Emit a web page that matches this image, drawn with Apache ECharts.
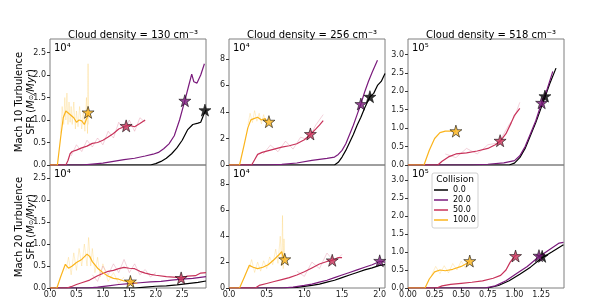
<!DOCTYPE html>
<html><head><meta charset="utf-8">
<script src="https://cdn.jsdelivr.net/npm/echarts@6/dist/echarts.min.js"></script>
<style>html,body{margin:0;padding:0;background:#fff}#c{width:598px;height:299px}</style>
</head><body><div id="c"></div>
<script>
// ---------- data ----------
const collisions = ["0.0", "20.0", "50.0", "100.0"];
const densities = ["130", "256", "518"];
const machs = ["10", "20"];
const scaleLabels = ["10\u2074", "10\u2074", "10\u2075"];

// Panel A: Mach 10, density 130 (units of 1e4)
const A_black = [[0,0],[1.9,0],[2.0,0.03],[2.1,0.08],[2.2,0.15],[2.3,0.25],[2.4,0.38],[2.5,0.55],[2.6,0.78],[2.7,0.9],[2.8,0.93],[2.85,0.95],[2.9,1.1],[2.95,1.22]];
const A_purple = [[0,0],[0.6,0],[0.8,0.02],[1.0,0.04],[1.2,0.08],[1.4,0.12],[1.6,0.15],[1.8,0.2],[1.95,0.24],[2.05,0.28],[2.15,0.36],[2.25,0.47],[2.35,0.65],[2.45,1.0],[2.55,1.43],[2.62,1.75],[2.68,2.02],[2.72,1.85],[2.78,1.82],[2.85,2.0],[2.92,2.25]];
const A_crimson = [[0,0],[0.3,0],[0.34,0.1],[0.38,0.25],[0.42,0.3],[0.5,0.33],[0.6,0.38],[0.7,0.42],[0.8,0.48],[0.9,0.5],[1.0,0.55],[1.1,0.62],[1.2,0.7],[1.3,0.8],[1.4,0.85],[1.44,0.87],[1.5,0.88],[1.6,0.85],[1.7,0.92],[1.8,1.0]];
const A_orange = [[0,0],[0.14,0],[0.2,0.6],[0.25,1.05],[0.3,1.2],[0.35,1.15],[0.4,1.1],[0.45,1.05],[0.5,0.95],[0.55,1.0],[0.6,0.98],[0.65,0.9],[0.7,1.05],[0.73,1.17]];
const A_orange_raw = [[0.2,0.7],[0.23,1.3],[0.26,0.9],[0.28,1.5],[0.3,1.0],[0.32,1.6],[0.34,0.9],[0.36,1.4],[0.38,0.95],[0.4,1.3],[0.42,0.9],[0.45,1.4],[0.48,0.8],[0.5,1.2],[0.53,0.85],[0.56,1.3],[0.6,0.8],[0.63,1.2],[0.66,0.75],[0.69,1.5],[0.71,0.7],[0.72,2.25],[0.73,0.9]];
const A_crimson_raw = [[0.4,0.2],[0.5,0.45],[0.6,0.3],[0.7,0.55],[0.8,0.4],[0.9,0.6],[1.0,0.45],[1.1,0.75],[1.2,0.6],[1.3,0.95],[1.4,0.75],[1.5,1.0],[1.6,0.75],[1.7,1.05],[1.8,0.95]];
const A_stars = [[2.93,1.22],[2.55,1.43],[1.44,0.87],[0.72,1.17]];

// Panel B: Mach 10, density 256 (1e4)
const B_black = [[0,0],[1.4,0],[1.45,0.2],[1.5,0.6],[1.55,1.1],[1.6,1.7],[1.65,2.3],[1.7,3.0],[1.75,3.6],[1.8,4.3],[1.87,5.15],[1.92,5.4],[1.97,6.0],[2.02,6.3],[2.07,6.9]];
const B_purple = [[0,0],[0.5,0],[0.7,0.05],[0.9,0.15],[1.1,0.35],[1.3,0.5],[1.4,0.6],[1.45,0.8],[1.5,1.1],[1.55,1.6],[1.6,2.3],[1.65,3.0],[1.7,3.8],[1.75,4.6],[1.8,5.5],[1.85,6.3],[1.9,7.0],[1.97,7.9]];
const B_crimson = [[0,0],[0.3,0],[0.34,0.4],[0.38,0.8],[0.44,0.95],[0.5,1.05],[0.6,1.2],[0.7,1.35],[0.8,1.45],[0.9,1.6],[1.0,1.9],[1.08,2.3],[1.15,2.7],[1.2,3.0],[1.25,3.35]];
const B_orange = [[0,0],[0.14,0],[0.2,1.5],[0.25,2.8],[0.29,3.4],[0.33,3.5],[0.38,3.6],[0.43,3.4],[0.48,3.5],[0.5,3.2]];
const B_orange_raw = [[0.25,3.0],[0.28,3.9],[0.31,3.2],[0.34,4.1],[0.37,3.3],[0.4,3.9],[0.43,3.1],[0.46,3.8],[0.5,2.9]];
const B_crimson_raw = [[0.45,0.8],[0.55,1.5],[0.65,1.0],[0.75,1.8],[0.85,1.2],[0.95,2.1],[1.05,1.9],[1.15,3.0],[1.25,3.8]];
const B_stars = [[1.87,5.15],[1.75,4.6],[1.08,2.34],[0.53,3.27]];

// Panel C: Mach 10, density 518 (1e5)
const C_black = [[0,0],[0.95,0],[1.0,0.05],[1.05,0.2],[1.1,0.45],[1.15,0.8],[1.2,1.15],[1.25,1.55],[1.29,1.87],[1.33,2.2],[1.39,2.63]];
const C_purple = [[0,0],[0.6,0],[0.75,0.02],[0.9,0.06],[1.0,0.12],[1.05,0.25],[1.1,0.5],[1.15,0.85],[1.2,1.2],[1.255,1.69],[1.3,2.0],[1.36,2.54]];
const C_crimson = [[0,0],[0.28,0],[0.32,0.1],[0.38,0.22],[0.45,0.3],[0.55,0.33],[0.65,0.38],[0.75,0.45],[0.82,0.55],[0.87,0.66],[0.92,0.85],[0.97,1.15],[1.0,1.35],[1.05,1.54]];
const C_orange = [[0,0],[0.15,0],[0.2,0.4],[0.25,0.72],[0.3,0.88],[0.35,0.92],[0.4,0.92],[0.45,0.92]];
const C_crimson_raw = [[0.35,0.3],[0.45,0.2],[0.55,0.45],[0.65,0.3],[0.75,0.55],[0.85,0.6],[0.95,1.1],[1.0,1.3],[1.05,1.7]];
const C_stars = [[1.286,1.87],[1.255,1.69],[0.865,0.66],[0.45,0.92]];

// Panel D: Mach 20, density 130 (1e4)
const D_black = [[0,0],[1.6,0],[1.8,0.02],[2.0,0.04],[2.2,0.05],[2.4,0.07],[2.6,0.1],[2.8,0.13],[2.95,0.16]];
const D_purple = [[0,0],[0.7,0],[0.9,0.02],[1.1,0.05],[1.3,0.08],[1.5,0.1],[1.7,0.12],[1.9,0.14],[2.1,0.15],[2.3,0.18],[2.5,0.2],[2.7,0.22],[2.95,0.26]];
const D_crimson = [[0,0],[0.32,0],[0.4,0.03],[0.5,0.08],[0.6,0.12],[0.75,0.18],[0.9,0.28],[1.0,0.33],[1.1,0.38],[1.2,0.4],[1.3,0.44],[1.4,0.47],[1.5,0.45],[1.6,0.44],[1.7,0.38],[1.8,0.34],[1.9,0.31],[2.0,0.29],[2.2,0.26],[2.4,0.24],[2.48,0.23],[2.6,0.27],[2.75,0.28],[2.85,0.34],[2.95,0.35]];
const D_orange = [[0,0],[0.13,0],[0.2,0.25],[0.29,0.54],[0.35,0.45],[0.42,0.5],[0.5,0.58],[0.6,0.65],[0.7,0.77],[0.75,0.72],[0.8,0.6],[0.9,0.45],[1.0,0.35],[1.1,0.27],[1.2,0.22],[1.3,0.2],[1.4,0.16],[1.5,0.15],[1.6,0.12],[1.65,0.11]];
const D_orange_raw = [[0.3,0.4],[0.35,0.7],[0.4,0.3],[0.45,0.8],[0.5,0.4],[0.55,0.9],[0.6,0.5],[0.65,1.0],[0.7,0.5],[0.73,1.15],[0.77,0.5],[0.8,0.9],[0.85,0.35],[0.9,0.7],[0.95,0.25],[1.0,0.55],[1.1,0.15],[1.2,0.35],[1.3,0.1],[1.4,0.25]];
const D_crimson_raw = [[0.8,0.3],[0.9,0.15],[1.0,0.5],[1.1,0.3],[1.2,0.55],[1.3,0.35],[1.4,0.65],[1.5,0.35],[1.6,0.55],[1.7,0.3],[1.8,0.42],[1.9,0.25],[2.0,0.35]];
const D_stars = [[2.48,0.23],[1.52,0.15]];

// Panel E: Mach 20, density 256 (1e4)
const E_black = [[0,0],[0.75,0],[0.9,0.05],[1.0,0.12],[1.1,0.2],[1.2,0.3],[1.3,0.45],[1.4,0.6],[1.5,0.8],[1.6,1.0],[1.7,1.2],[1.8,1.4],[1.9,1.55],[2.0,1.75],[2.07,1.8]];
const E_purple = [[0,0],[0.7,0],[0.85,0.07],[1.0,0.2],[1.1,0.3],[1.2,0.45],[1.3,0.6],[1.4,0.8],[1.5,1.0],[1.6,1.2],[1.7,1.4],[1.8,1.6],[1.9,1.8],[2.0,2.05],[2.07,2.0]];
const E_crimson = [[0,0],[0.35,0],[0.4,0.2],[0.5,0.35],[0.6,0.5],[0.7,0.65],[0.8,0.8],[0.9,1.0],[1.0,1.25],[1.1,1.55],[1.2,1.85],[1.3,2.05],[1.37,2.14],[1.45,2.35],[1.5,2.35]];
const E_orange = [[0,0],[0.14,0],[0.2,0.8],[0.27,1.75],[0.32,1.6],[0.38,1.5],[0.45,1.6],[0.52,1.8],[0.6,2.2],[0.66,2.55],[0.7,2.8],[0.72,2.3],[0.74,2.2]];
const E_orange_raw = [[0.27,1.5],[0.3,2.2],[0.34,1.2],[0.38,2.0],[0.42,1.3],[0.46,2.1],[0.5,1.5],[0.54,2.4],[0.58,1.8],[0.62,3.0],[0.65,1.9],[0.68,4.0],[0.7,1.7],[0.71,5.6],[0.72,1.5],[0.73,3.8],[0.74,2.0]];
const E_crimson_raw = [[0.9,1.3],[1.0,0.9],[1.1,2.0],[1.2,1.5],[1.3,2.7],[1.4,2.0],[1.5,2.6]];
const E_stars = [[2.0,2.1],[1.37,2.14],[0.74,2.22]];

// Panel F: Mach 20, density 518 (1e5)
const F_black = [[0,0],[0.75,0],[0.85,0.07],[0.95,0.2],[1.05,0.38],[1.15,0.58],[1.25,0.82],[1.35,1.0],[1.46,1.2]];
const F_purple = [[0,0],[0.72,0],[0.82,0.06],[0.92,0.2],[1.02,0.4],[1.12,0.6],[1.22,0.85],[1.32,1.05],[1.42,1.25],[1.46,1.27]];
const F_crimson = [[0,0],[0.27,0],[0.32,0.06],[0.4,0.1],[0.5,0.13],[0.6,0.16],[0.7,0.2],[0.8,0.27],[0.87,0.35],[0.92,0.5],[0.96,0.72],[1.0,0.88],[1.02,0.92]];
const F_orange = [[0,0],[0.16,0],[0.2,0.25],[0.25,0.45],[0.3,0.5],[0.35,0.48],[0.42,0.52],[0.5,0.6],[0.55,0.68],[0.58,0.75]];
const F_orange_raw = [[0.22,0.35],[0.26,0.6],[0.3,0.4],[0.34,0.62],[0.38,0.42],[0.42,0.68],[0.46,0.5],[0.5,0.75],[0.54,0.55],[0.58,0.85]];
const F_stars = [[1.26,0.88],[1.23,0.9],[1.01,0.89],[0.58,0.75]];

// ---------- styles ----------
const colors = ["#000000", "#7a1a7c", "#c8325a", "#fbb41c"];
const xMax = [2.95, 2.07, 1.465];
const xInt = [0.5, 0.5, 0.25];
const yMax = [2.8, 9.5, 3.42];
const yInt = [0.5, 2, 0.5];
const colLeft = [50, 229, 408];
const colW = 156;
const rowTop = [39, 165];
const rowH = [126, 124];

const panels = [
  {lines:[A_black,A_purple,A_crimson,A_orange], raw:[[3,A_orange_raw],[2,A_crimson_raw]], stars:A_stars, starCols:[0,1,2,3]},
  {lines:[B_black,B_purple,B_crimson,B_orange], raw:[[3,B_orange_raw],[2,B_crimson_raw]], stars:B_stars, starCols:[0,1,2,3]},
  {lines:[C_black,C_purple,C_crimson,C_orange], raw:[[2,C_crimson_raw]], stars:C_stars, starCols:[0,1,2,3]},
  {lines:[D_black,D_purple,D_crimson,D_orange], raw:[[3,D_orange_raw],[2,D_crimson_raw]], stars:D_stars, starCols:[2,3]},
  {lines:[E_black,E_purple,E_crimson,E_orange], raw:[[3,E_orange_raw],[2,E_crimson_raw]], stars:E_stars, starCols:[1,2,3]},
  {lines:[F_black,F_purple,F_crimson,F_orange], raw:[[3,F_orange_raw]], stars:F_stars, starCols:[0,1,2,3]}
];

const starPath = 'path://M50,0 L61,35 L98,35 L68,57 L79,91 L50,70 L21,91 L32,57 L2,35 L39,35 Z';
const font = 'DejaVu Sans';

const grid = [], xAxis = [], yAxis = [], series = [], title = [], graphic = [];
for (let r = 0; r < 2; r++) {
  for (let c = 0; c < 3; c++) {
    const p = r*3 + c;
    grid.push({left: colLeft[c], top: rowTop[r], width: colW, height: rowH[r], show: true, borderColor: '#7f7f7f', borderWidth: 1, backgroundColor: 'transparent'});
    xAxis.push({type: 'value', gridIndex: p, min: 0, max: xMax[c], interval: xInt[c],
      axisLine: {show: false}, splitLine: {show: false},
      axisTick: {show: r === 1, length: 3, lineStyle: {color: '#333'}},
      axisLabel: {show: r === 1, fontSize: 8, color: '#222', fontFamily: font, margin: 3, showMaxLabel: false,
        formatter: v => c === 2 ? v.toFixed(2) : v.toFixed(1)}});
    yAxis.push({type: 'value', gridIndex: p, min: 0, max: yMax[c], interval: yInt[c],
      axisLine: {show: false}, splitLine: {show: false},
      axisTick: {show: true, length: 3, lineStyle: {color: '#333'}},
      axisLabel: {fontSize: 8, color: '#222', fontFamily: font, margin: 4, showMaxLabel: false,
        formatter: v => c === 1 ? String(Math.round(v)) : v.toFixed(1)}});
    const P = panels[p];
    P.raw.forEach(([ci, d]) => {
      series.push({type: 'line', name: 'raw' + ci, xAxisIndex: p, yAxisIndex: p, data: d, symbol: 'none', silent: true,
        lineStyle: {color: colors[ci], width: 1, opacity: 0.22}, z: 1});
    });
    P.lines.forEach((d, ci) => {
      series.push({type: 'line', name: collisions[ci], xAxisIndex: p, yAxisIndex: p, data: d, symbol: 'none',
        lineStyle: {color: colors[ci], width: 1.2}, itemStyle: {color: colors[ci]}, z: 2});
    });
    series.push({type: 'scatter', name: 'stars' + p, xAxisIndex: p, yAxisIndex: p, symbol: starPath, symbolSize: 12,
      data: P.stars.map((s, i) => ({value: s, itemStyle: {color: colors[P.starCols[i]]}})),
      itemStyle: {borderColor: '#000', borderWidth: 0.7}, z: 5});
    graphic.push({type: 'text', left: colLeft[c] + 4, top: rowTop[r] + 4,
      style: {text: scaleLabels[c], fontSize: 10, fill: '#000', fontFamily: font}});
  }
}
for (let c = 0; c < 3; c++) {
  title.push({text: 'Cloud density = ' + densities[c] + ' cm\u207B\u00B3', left: colLeft[c] + colW/2, top: 25, textAlign: 'center',
    textStyle: {fontSize: 10, fontWeight: 'normal', color: '#000', fontFamily: font}});
}
for (let r = 0; r < 2; r++) {
  const cy = rowTop[r] + rowH[r]/2;
  graphic.push({type: 'text', x: 19, y: cy, rotation: Math.PI/2,
    style: {text: 'Mach ' + machs[r] + ' Turbulence', fontSize: 10, fill: '#000', fontFamily: font, align: 'center', verticalAlign: 'middle'}});
  graphic.push({type: 'text', x: 31, y: cy, rotation: Math.PI/2,
    style: {text: 'SFR ({i|M}{s|\u2299}{i|/Myr})', fontSize: 10, fill: '#000', fontFamily: font, align: 'center', verticalAlign: 'middle',
      rich: {i: {fontStyle: 'italic', fontSize: 10, fontFamily: font, fill: '#000'}, s: {fontSize: 6, fontFamily: font, fill: '#000'}}}});
}
// legend frame and title
graphic.push({type: 'rect', shape: {x: 432, y: 173, width: 46, height: 55, r: 2}, style: {fill: 'rgba(255,255,255,0.85)', stroke: '#d0d0d0', lineWidth: 1}, z: 10});
graphic.push({type: 'text', x: 455, y: 180, z: 11, style: {text: 'Collision', fontSize: 9, fill: '#000', fontFamily: font, align: 'center', verticalAlign: 'middle'}});

const option = {
  animation: false,
  backgroundColor: '#fff',
  title, grid, xAxis, yAxis, series, graphic,
  legend: {data: collisions, orient: 'vertical', left: 434, top: 185, icon: 'rect', itemWidth: 14, itemHeight: 1.5, itemGap: 0, z: 20,
    textStyle: {fontSize: 8, lineHeight: 10, color: '#000', fontFamily: font}, padding: 0, selectedMode: false}
};
const chart = echarts.init(document.getElementById('c'), null, {renderer: 'canvas'});
chart.setOption(option);
</script></body></html>
